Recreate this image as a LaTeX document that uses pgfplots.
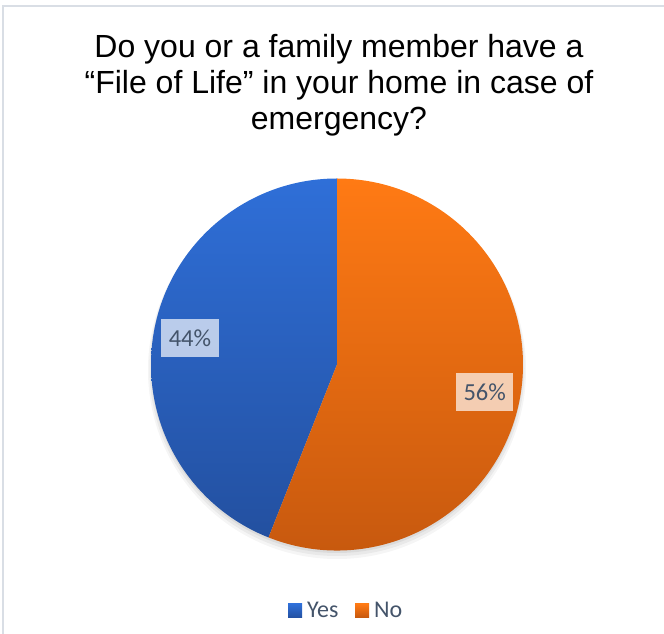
\documentclass[border=0pt]{standalone}
\usepackage{pgfplots}
\pgfplotsset{compat=1.18}
\usepackage{pgfplotstable}
\usepackage{fontspec}
\setmainfont{Liberation Sans}
\newfontfamily\calibri{Carlito}
\definecolor{blueTop}{HTML}{2F6FD8}
\definecolor{blueBot}{HTML}{2350A0}
\definecolor{orTop}{HTML}{FF7A14}
\definecolor{orBot}{HTML}{C4570E}
\definecolor{lblText}{HTML}{44546A}
\definecolor{frameC}{HTML}{D9DEE5}

\pgfplotstableread{
label value
Yes 44
No 56
}\piedata

\begin{document}
\begin{tikzpicture}
\pgfplotstablegetelem{0}{value}\of\piedata \let\vyes\pgfplotsretval
\pgfplotstablegetelem{1}{value}\of\piedata \let\vno\pgfplotsretval
\pgfmathsetmacro\angyes{90+3.6*\vyes}
\pgfmathsetmacro\angno{\angyes+3.6*\vno}
\begin{axis}[at={(0pt,0pt)}, anchor=origin, width=664pt, height=634pt,
  scale only axis, xmin=0, xmax=664, ymin=0, ymax=634, hide axis, clip=false]
% frame
\draw[frameC, line width=1.5pt] (axis cs:3,-20) -- (axis cs:3,628) -- (axis cs:700,628);
% soft shadow
\fill[black, opacity=0.04] (axis cs:337,264) circle[radius=189pt];
\fill[black, opacity=0.05] (axis cs:337,265.5) circle[radius=187.5pt];
\fill[black, opacity=0.06] (axis cs:337,267) circle[radius=186pt];
% wedges
\shade[top color=blueTop, bottom color=blueBot]
  (axis cs:337,269.5) -- ++(90:186pt) arc[start angle=90, end angle=\angyes, radius=186pt] -- cycle;
\shade[top color=orTop, bottom color=orBot]
  (axis cs:337,269.5) -- ++(\angyes:186pt) arc[start angle=\angyes, end angle=\angno, radius=186pt] -- cycle;
% data labels
\node[fill=white, fill opacity=0.68, text opacity=1, text=lblText,
  font=\calibri\fontsize{24.5}{28}\selectfont, minimum width=58pt, minimum height=38pt, inner sep=0pt]
  at (axis cs:190,296) {44\%};
\node[fill=white, fill opacity=0.68, text opacity=1, text=lblText,
  font=\calibri\fontsize{24.5}{28}\selectfont, minimum width=57pt, minimum height=38pt, inner sep=0pt]
  at (axis cs:484.7,242) {56\%};
% title
\node[anchor=base, font=\fontsize{32}{36}\selectfont] at (axis cs:339,576) {Do you or a family member have a};
\node[anchor=base, font=\fontsize{32}{36}\selectfont] at (axis cs:339,540) {``File of Life'' in your home in case of};
\node[anchor=base, font=\fontsize{32}{36}\selectfont] at (axis cs:339,504) {emergency?};
% legend
\shade[top color=blueTop, bottom color=blueBot] (axis cs:288,30) rectangle (axis cs:302,16);
\node[anchor=base west, inner sep=0pt, text=lblText, font=\calibri\fontsize{24}{28}\selectfont] at (axis cs:307,16) {Yes};
\shade[top color=orTop, bottom color=orBot] (axis cs:355,30) rectangle (axis cs:369,16);
\node[anchor=base west, inner sep=0pt, text=lblText, font=\calibri\fontsize{24}{28}\selectfont] at (axis cs:374,16) {No};
\end{axis}
\pgfresetboundingbox
\useasboundingbox (0,0) rectangle (664pt,634pt);
\end{tikzpicture}
\end{document}
